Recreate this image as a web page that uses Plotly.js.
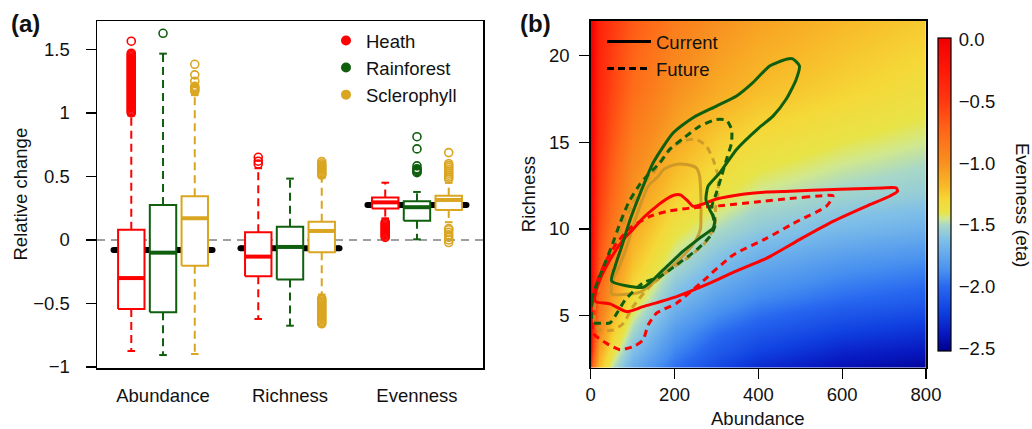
<!DOCTYPE html>
<html><head><meta charset="utf-8">
<script src="https://cdn.plot.ly/plotly-3.0.1.min.js"></script>
<style>html,body{margin:0;padding:0;background:#fff}#chart{width:1032px;height:429px}</style>
</head><body><div id="chart"></div>
<script>
// ---------------- Panel (a) data ----------------
const groups = ['Abundance', 'Richness', 'Evenness'];
const vegTypes = ['Heath', 'Rainforest', 'Sclerophyll'];
const vegColors = ['#FF0000', '#0F5F0F', '#DAA520'];

// per vegetation type: [Abundance, Richness, Evenness]
const boxQ1     = [[-0.543, -0.286, 0.247], [-0.570, -0.312, 0.152], [-0.202, -0.097, 0.236]];
const boxMedian = [[-0.300, -0.131, 0.296], [-0.100, -0.055, 0.258], [ 0.171,  0.071, 0.315]];
const boxQ3     = [[ 0.081,  0.060, 0.335], [ 0.276,  0.105, 0.304], [ 0.344,  0.144, 0.349]];
const whiskerHigh = [[0.980, 0.565, 0.451], [1.467, 0.483, 0.378], [1.140, 0.490, 0.450]];
const whiskerLow  = [[-0.874, -0.622, 0.170], [-0.906, -0.675, 0.005], [-0.898, -0.430, 0.140]];
const overallMedian = [-0.079, -0.065, 0.275];

const heathOutliers = [
  [1.00, 1.01, 1.02, 1.03, 1.04, 1.05, 1.06, 1.07, 1.08, 1.09, 1.10, 1.11, 1.12, 1.13, 1.14, 1.15,
   1.16, 1.17, 1.18, 1.19, 1.20, 1.21, 1.22, 1.23, 1.24, 1.25, 1.26, 1.27, 1.28, 1.29, 1.30, 1.31,
   1.32, 1.33, 1.34, 1.35, 1.36, 1.37, 1.38, 1.39, 1.40, 1.41, 1.42, 1.43, 1.44, 1.45, 1.46, 1.47, 1.565],
  [0.598, 0.620, 0.651],
  [0.02, 0.03, 0.04, 0.05, 0.06, 0.07, 0.08, 0.09, 0.10, 0.11, 0.12, 0.13, 0.14]
];
const rainforestOutliers = [
  [1.627],
  [],
  [0.530, 0.538, 0.546, 0.555, 0.561, 0.583, 0.717, 0.813]
];
const sclerophyllOutliers = [
  [1.17, 1.18, 1.19, 1.20, 1.21, 1.25, 1.30, 1.383],
  [0.51, 0.52, 0.53, 0.54, 0.55, 0.56, 0.57, 0.58, 0.59, 0.60, 0.617,
   -0.46, -0.47, -0.48, -0.49, -0.50, -0.51, -0.52, -0.53, -0.54, -0.55, -0.56,
   -0.57, -0.58, -0.59, -0.60, -0.61, -0.62, -0.63, -0.64, -0.65, -0.66],
  [0.48, 0.495, 0.51, 0.525, 0.54, 0.555, 0.57, 0.585, 0.60, 0.688,
   -0.02, 0.00, 0.02, 0.04, 0.06, 0.08, 0.09]
];
const outliers = [heathOutliers, rainforestOutliers, sclerophyllOutliers];

// ---------------- Panel (b) data ----------------
const abundanceGrid = [0, 5, 20, 50, 100, 200, 300, 400, 600, 800];
const richnessGrid = [2, 3, 4, 6, 8, 10, 12, 15, 18, 22];
// rows follow richnessGrid, columns follow abundanceGrid
const evennessGrid = [
  [-0.50, -0.85, -1.20, -1.47, -1.72, -1.98, -2.16, -2.30, -2.42, -2.48],
  [-0.10, -0.60, -1.08, -1.36, -1.62, -1.90, -2.06, -2.18, -2.32, -2.38],
  [ 0.00, -0.45, -0.95, -1.25, -1.52, -1.82, -1.98, -2.08, -2.20, -2.27],
  [ 0.00, -0.32, -0.78, -1.07, -1.35, -1.64, -1.79, -1.89, -1.99, -2.05],
  [ 0.00, -0.25, -0.66, -0.94, -1.22, -1.49, -1.63, -1.73, -1.83, -1.89],
  [ 0.00, -0.20, -0.58, -0.84, -1.12, -1.37, -1.49, -1.57, -1.65, -1.70],
  [ 0.00, -0.16, -0.52, -0.75, -1.03, -1.26, -1.38, -1.46, -1.52, -1.56],
  [ 0.00, -0.12, -0.44, -0.65, -0.90, -1.12, -1.26, -1.33, -1.40, -1.45],
  [ 0.00, -0.10, -0.38, -0.57, -0.78, -1.00, -1.12, -1.20, -1.28, -1.35],
  [ 0.00, -0.08, -0.33, -0.50, -0.68, -0.88, -1.00, -1.08, -1.18, -1.25]
];
const evennessTicks = [0, -0.5, -1, -1.5, -2, -2.5];

const heathCurrentA = [729, 697, 578, 475, 419, 363, 300, 270, 244, 232, 215, 200, 181, 157, 125, 100, 78, 46, 22, 10, 12, 46, 86, 125, 205, 284, 340, 419, 498, 578, 657, 713, 732, 729];
const heathCurrentS = [12.36, 12.36, 12.27, 12.17, 12.12, 12.0, 11.72, 11.45, 11.3, 11.6, 11.95, 11.95, 11.72, 11.3, 10.63, 9.95, 9.38, 8.22, 7.06, 6.1, 5.8, 5.68, 5.23, 5.52, 6.1, 6.87, 7.5, 8.3, 9.38, 10.43, 11.3, 11.88, 12.17, 12.36];
const heathFutureA = [578, 520, 475, 395, 316, 236, 181, 141, 94, 62, 38, 14, 2, 6, 38, 70, 105, 125, 137, 157, 205, 268, 340, 419, 475, 498, 562, 578];
const heathFutureS = [11.9, 11.85, 11.75, 11.55, 11.35, 11.2, 11.0, 10.72, 10.05, 9.18, 8.22, 6.87, 5.33, 3.98, 3.4, 3.04, 3.25, 3.6, 4.46, 5.14, 5.72, 7.0, 8.5, 9.45, 10.2, 10.5, 11.3, 11.9];
const rainCurrentA = [50, 125, 173, 220, 260, 292, 296, 284, 275, 280, 308, 348, 400, 435, 467, 490, 498, 482, 467, 427, 387, 348, 300, 244, 197, 149, 125, 94, 74, 58, 50];
const rainCurrentS = [7.0, 6.64, 7.64, 8.70, 9.47, 10.05, 10.53, 11.11, 11.69, 12.46, 13.23, 14.58, 15.8, 16.5, 17.5, 18.6, 19.4, 19.8, 19.78, 19.39, 18.43, 17.66, 17.08, 16.41, 15.54, 13.81, 12.46, 10.53, 8.99, 7.83, 7.0];
const rainFutureA = [5, 2, 18, 34, 50, 70, 90, 118, 140, 165, 189, 220, 260, 300, 324, 336, 336, 324, 312, 300, 289, 292, 296, 284, 253, 205, 165, 125, 82, 63, 46, 25, 5];
const rainFutureS = [4.6, 5.9, 7.06, 8.03, 9.0, 10.34, 11.5, 12.6, 13.2, 13.81, 14.6, 15.2, 15.92, 16.31, 16.27, 15.73, 14.97, 14.0, 13.03, 12.08, 11.3, 10.71, 10.13, 9.55, 8.8, 7.93, 7.24, 6.89, 5.9, 5.16, 4.58, 4.56, 4.6];
const sclCurrentA = [50, 95, 118, 150, 190, 225, 250, 262, 263, 263, 260, 252, 229, 200, 175, 160, 137, 106, 86, 68, 52, 50];
const sclCurrentS = [6.25, 6.25, 6.35, 6.9, 7.75, 8.55, 9.3, 10.0, 10.6, 11.7, 13.03, 13.52, 13.71, 13.7, 13.45, 13.0, 12.46, 10.53, 8.99, 7.83, 7.0, 6.25];
const sclFutureA = [10, 10, 26, 50, 74, 101, 125, 149, 175, 200, 225, 252, 276, 292, 304, 304, 298, 296, 276, 236, 189, 141, 101, 78, 54, 22, 10];
const sclFutureS = [4.5, 5.7, 7.25, 8.8, 10.14, 11.5, 12.6, 13.2, 14.2, 14.8, 15.1, 15.16, 14.77, 14.0, 13.03, 12.08, 11.2, 10.24, 9.28, 8.41, 7.64, 6.68, 5.52, 4.56, 4.17, 4.17, 4.5];

// ---------------- Figure ----------------
const W = 1032, H = 429;
const px = v => v / W, py = v => 1 - v / H;
const FONT = 'Arial, "Liberation Sans", Helvetica, sans-serif';
const FS = 18.5;
const boxOffset = [-0.25, 0, 0.25], boxHalf = 0.104, stapleHalf = 0.03, medianHalf = 0.39;
const contourLineColors = ['#FF0000', '#0F5F0F', 'rgba(200,148,38,0.85)'];

const traces = [];

// overall medians (thick black)
{
  const x = [], y = [];
  groups.forEach((g, gi) => { x.push(gi - medianHalf, gi + medianHalf, null); y.push(overallMedian[gi], overallMedian[gi], null); });
  traces.push({type: 'scatter', mode: 'lines+markers', x, y, xaxis: 'x', yaxis: 'y', showlegend: false, hoverinfo: 'skip',
    line: {color: '#000', width: 6}, marker: {color: '#000', size: 6}});
}

vegTypes.forEach((veg, vi) => {
  const col = vegColors[vi];
  const bx = [], by = [], mx = [], my = [], wx = [], wy = [], sx = [], sy = [], ox = [], oy = [];
  groups.forEach((g, gi) => {
    const c = gi + boxOffset[vi];
    bx.push(c - boxHalf, c + boxHalf, c + boxHalf, c - boxHalf, c - boxHalf, null);
    by.push(boxQ1[vi][gi], boxQ1[vi][gi], boxQ3[vi][gi], boxQ3[vi][gi], boxQ1[vi][gi], null);
    mx.push(c - boxHalf, c + boxHalf, null); my.push(boxMedian[vi][gi], boxMedian[vi][gi], null);
    wx.push(c, c, null, c, c, null);
    wy.push(boxQ3[vi][gi], whiskerHigh[vi][gi], null, boxQ1[vi][gi], whiskerLow[vi][gi], null);
    sx.push(c - stapleHalf, c + stapleHalf, null, c - stapleHalf, c + stapleHalf, null);
    sy.push(whiskerHigh[vi][gi], whiskerHigh[vi][gi], null, whiskerLow[vi][gi], whiskerLow[vi][gi], null);
    outliers[vi][gi].forEach(v => { ox.push(c); oy.push(v); });
  });
  traces.push({type: 'scatter', mode: 'lines', x: wx, y: wy, line: {color: col, width: 2, dash: '8px,5px'}, showlegend: false, hoverinfo: 'skip'});
  traces.push({type: 'scatter', mode: 'lines', x: sx, y: sy, line: {color: col, width: 2}, showlegend: false, hoverinfo: 'skip'});
  traces.push({type: 'scatter', mode: 'lines', x: bx, y: by, fill: 'toself', fillcolor: '#FFFFFF', line: {color: col, width: 2}, showlegend: false, hoverinfo: 'skip'});
  traces.push({type: 'scatter', mode: 'lines', x: mx, y: my, line: {color: col, width: 4}, showlegend: false, hoverinfo: 'skip'});
  traces.push({type: 'scatter', mode: 'markers', x: ox, y: oy, marker: {symbol: 'circle-open', size: 8, color: col, line: {width: 1.6, color: col}}, showlegend: false, hoverinfo: 'skip'});
});
// legend (a)
vegTypes.forEach((veg, vi) => {
  traces.push({type: 'scatter', mode: 'markers', x: [null], y: [null], name: veg, legend: 'legend',
    marker: {symbol: 'circle', size: 10, color: vegColors[vi]}, showlegend: true});
});

// heatmap (b)
const stops = [
  [-2.52, '#00008C'], [-2.38, '#0818C0'], [-2.2, '#1040E0'], [-2.0, '#2868F0'], [-1.87, '#4890F0'],
  [-1.62, '#80C0E8'], [-1.5, '#A8D8C8'], [-1.45, '#D0E890'], [-1.4, '#E8E448'], [-1.3, '#F5D838'],
  [-1.18, '#F8B828'], [-1.0, '#F89020'], [-0.75, '#FF6818'], [-0.5, '#FF3810'], [-0.25, '#FF1808'], [0.01, '#F00000']
];
const zmin = -2.52, zmax = 0.01;
const colorscale = stops.map(s => [(s[0] - zmin) / (zmax - zmin), s[1]]);
traces.push({type: 'heatmap', x: abundanceGrid, y: richnessGrid, z: evennessGrid, xaxis: 'x2', yaxis: 'y2',
  zmin, zmax, zsmooth: 'best', colorscale, hoverinfo: 'skip', showlegend: false,
  colorbar: {x: px(937.7), xanchor: 'left', xpad: 0, ypad: 0, y: py(194.65), yanchor: 'middle',
    len: 313, lenmode: 'pixels', thickness: 13, thicknessmode: 'pixels',
    outlinewidth: 1.2, outlinecolor: '#000', tickvals: evennessTicks, tickformat: '.1f',
    ticks: 'outside', ticklen: 4, tickcolor: 'rgba(0,0,0,0)', tickfont: {size: FS, family: FONT, color: '#111'}}
});

const contours = [
  [sclCurrentA, sclCurrentS, 2, 'solid'], [sclFutureA, sclFutureS, 2, '7px,5px'],
  [heathCurrentA, heathCurrentS, 0, 'solid'], [heathFutureA, heathFutureS, 0, '7px,5px'],
  [rainCurrentA, rainCurrentS, 1, 'solid'], [rainFutureA, rainFutureS, 1, '7px,5px']
];
contours.forEach(c => {
  traces.push({type: 'scatter', mode: 'lines', x: c[0], y: c[1], xaxis: 'x2', yaxis: 'y2',
    line: {color: contourLineColors[c[2]], width: 3, dash: c[3], shape: 'spline', smoothing: 0.6},
    showlegend: false, hoverinfo: 'skip'});
});
['Current', 'Future'].forEach((nm, i) => {
  traces.push({type: 'scatter', mode: 'lines', x: [null], y: [null], xaxis: 'x2', yaxis: 'y2', name: nm,
    legend: 'legend2', line: {color: '#000', width: 3, dash: i === 0 ? 'solid' : '7px,4px'}, showlegend: true});
});

const axisCommon = {showline: true, mirror: true, linecolor: '#000', linewidth: 1.5, showgrid: false, zeroline: false,
  ticks: 'outside', ticklen: 10, tickwidth: 1.3, tickcolor: '#000', tickfont: {size: FS, family: FONT, color: '#111'}, fixedrange: true};

const layout = {
  width: W, height: H, margin: {l: 0, r: 0, t: 0, b: 0}, paper_bgcolor: '#fff', plot_bgcolor: '#fff',
  font: {family: FONT, size: FS, color: '#111'},
  xaxis: Object.assign({}, axisCommon, {domain: [px(97), px(483)], range: [-0.52, 2.52], anchor: 'y',
    tickvals: [0, 1, 2], ticktext: groups, tickcolor: 'rgba(0,0,0,0)', ticklabelstandoff: 0}),
  yaxis: Object.assign({}, axisCommon, {domain: [py(368), py(21)], range: [-1.008, 1.724], anchor: 'x',
    tickvals: [-1, -0.5, 0, 0.5, 1, 1.5], ticklabelstandoff: 12}),
  xaxis2: Object.assign({}, axisCommon, {domain: [px(590.7), px(926)], range: [0, 800], anchor: 'y2',
    tickvals: [0, 200, 400, 600, 800], ticklabelstandoff: 0}),
  yaxis2: Object.assign({}, axisCommon, {domain: [py(367.7), py(20.7)], range: [2, 22], anchor: 'x2',
    tickvals: [5, 10, 15, 20], ticklabelstandoff: 6}),
  shapes: [{type: 'line', xref: 'x domain', yref: 'y', x0: 0, x1: 1, y0: 0, y1: 0, layer: 'below',
    line: {color: '#808080', width: 1.5, dash: '8px,6px'}}],
  legend: {x: px(326), xanchor: 'left', y: py(22), yanchor: 'top', bgcolor: 'rgba(0,0,0,0)', borderwidth: 0,
    font: {size: FS, family: FONT, color: '#111'}, tracegroupgap: 0, itemclick: false, itemdoubleclick: false},
  legend2: {x: px(602), xanchor: 'left', y: py(23), yanchor: 'top', bgcolor: 'rgba(0,0,0,0)', borderwidth: 0,
    font: {size: FS, family: FONT, color: '#111'}, tracegroupgap: 0, itemwidth: 44, itemclick: false, itemdoubleclick: false},
  annotations: [
    {text: '<b>(a)</b>', x: px(9), y: py(24), xref: 'paper', yref: 'paper', xanchor: 'left', yanchor: 'middle', showarrow: false, font: {size: 24, family: FONT, color: '#111'}},
    {text: '<b>(b)</b>', x: px(518), y: py(24), xref: 'paper', yref: 'paper', xanchor: 'left', yanchor: 'middle', showarrow: false, font: {size: 24, family: FONT, color: '#111'}},
    {text: 'Relative change', x: px(20), y: py(194.5), xref: 'paper', yref: 'paper', xanchor: 'center', yanchor: 'middle', textangle: -90, showarrow: false},
    {text: 'Richness', x: px(528), y: py(194.2), xref: 'paper', yref: 'paper', xanchor: 'center', yanchor: 'middle', textangle: -90, showarrow: false},
    {text: 'Abundance', x: px(758.3), y: py(418), xref: 'paper', yref: 'paper', xanchor: 'center', yanchor: 'middle', showarrow: false},
    {text: 'Evenness (eta)', x: px(1022), y: py(205), xref: 'paper', yref: 'paper', xanchor: 'center', yanchor: 'middle', textangle: 90, showarrow: false}
  ]
};

Plotly.newPlot('chart', traces, layout, {displayModeBar: false, staticPlot: true});
</script></body></html>
